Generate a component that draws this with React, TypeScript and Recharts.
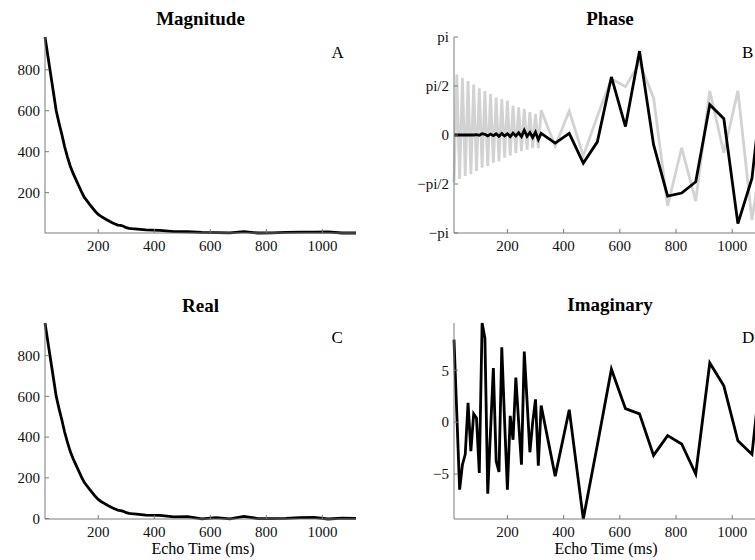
import { LineChart, Line, XAxis, YAxis } from "recharts";

// echo times (ms): dense sampling first, then every 50 ms
const echoTimes = [
  10, 20, 30, 40, 50, 60, 70, 80, 90, 100, 110, 120, 130, 140, 150, 160,
  170, 180, 190, 200, 210, 220, 230, 240, 250, 260, 270, 280, 290, 300, 310, 320,
  370, 420, 470, 520, 570, 620, 670, 720, 770, 820, 870, 920, 970, 1020, 1070, 1120,
];

const magnitude = [
  960, 870, 780, 690, 600, 540, 485, 425, 375, 330, 295, 265, 235, 205, 178, 160,
  142, 125, 108, 94, 84, 76, 68, 60, 53, 47, 42, 40, 36, 29, 26, 24,
  18, 16, 10, 9, 6, 5, 4, 10, 3, 4, 6, 7, 7, 8, 3, 3,
];

const realPart = [
  960, 870, 780, 690, 600, 540, 485, 425, 375, 330, 295, 265, 235, 205, 178, 160,
  142, 125, 108, 94, 84, 76, 68, 60, 53, 47, 42, 39, 36, 29, 26, 24,
  17, 16, 8, 10, -1, 5, -1, 11, 0, 0, 1, 5, 6, -2, 2, 1,
];

const imagPart = [
  7.95, 0.8, -6.5, -4.1, -3.1, 1.86, -2.8, 0.8, 0.4, -4.9, 9.55, 8.1, -6.9, -0.8, 5.2, -3.75,
  -4.8, 7.2, 0.1, -6.5, 0.6, -1.7, 4.3, 0.0, -4.1, 6.8, 2.0, -2.9, 0.0, 2.2, -4.2, 1.6,
  -5.2, 1.2, -9.33, -2.2, 5.1, 1.3, 0.8, -3.2, -1.3, -2.1, -5.0, 5.7, 3.5, -1.8, -3.1, 9.4,
];

const phase = [
  0, 0, 0, 0, 0, 0, 0, 0, 0.01, -0.01, 0.04, 0.02, -0.03, 0.03, -0.02, 0.04,
  -0.04, 0.05, -0.03, 0.04, -0.05, 0.06, -0.03, 0.07, -0.05, 0.15, -0.04, 0.08, -0.08, 0.09, -0.15, 0.05,
  -0.26, 0.05, -0.9, -0.22, 1.86, 0.27, 2.69, -0.31, -1.96, -1.86, -1.5, 0.97, 0.52, -2.84, -1.39, 2.6,
];

const phaseRaw = [
  -1.52, 1.94, -1.41, 1.83, -1.31, 1.73, -1.26, 1.62, -1.15, 1.5, -1.05, 1.41, -0.99, 1.31, -0.89, 1.2,
  -0.84, 1.15, -0.73, 1.1, -0.66, 0.94, -0.58, 0.89, -0.52, 0.84, -0.47, 0.73, -0.42, 0.68, -0.42, 0.79,
  -0.36, 0.77, -0.67, 0.6, 1.8, 1.55, 2.32, 1.19, -2.27, -0.41, -2.12, 1.41, -0.57, 1.42, -2.73, 0.3,
];

const timeTicks = [200, 400, 600, 800, 1000];
const magTicks = [200, 400, 600, 800];
const realTicks = [0, 200, 400, 600, 800];
const imagTicks = [-5, 0, 5];
const phaseTicks = [-Math.PI, -Math.PI / 2, 0, Math.PI / 2, Math.PI];
const phaseTickLabels = ["−pi", "−pi/2", "0", "pi/2", "pi"];

const rows = echoTimes.map((t, i) => ({
  t,
  mag: magnitude[i],
  re: realPart[i],
  im: imagPart[i],
  ph: phase[i],
  phRaw: phaseRaw[i],
}));

const FONT = "'Liberation Serif', 'Times New Roman', serif";
const AXIS = "#7a7a7a";
const PLOT_H = 196;
const TOP_PAD = 10;

const extent = (arr: number[]): [number, number] => [Math.min(...arr), Math.max(...arr)];

type Series = { key: string; color: string };

type PanelProps = {
  left: number;
  top: number;
  yWidth: number;
  plotW: number;
  domain: [number, number];
  ticks: number[];
  fmt?: (v: number) => string;
  series: Series[];
};

const Panel = ({ left, top, yWidth, plotW, domain, ticks, fmt, series }: PanelProps) => {
  const tickStyle = { fill: "#111", fontSize: 15, fontFamily: FONT };
  return (
    <div style={{ position: "absolute", left: left - yWidth, top: top - TOP_PAD }}>
      <LineChart
        width={yWidth + plotW + 5}
        height={TOP_PAD + PLOT_H + 30}
        data={rows}
        margin={{ top: TOP_PAD, right: 5, bottom: 0, left: 0 }}
      >
        <XAxis
          dataKey="t"
          type="number"
          domain={[10, 1120]}
          ticks={timeTicks}
          interval={0}
          height={30}
          tickSize={-4}
          tickMargin={11}
          stroke={AXIS}
          tick={tickStyle}
        />
        <XAxis
          xAxisId="top"
          orientation="top"
          dataKey="t"
          type="number"
          domain={[10, 1120]}
          ticks={timeTicks}
          interval={0}
          height={0}
          tickSize={-4}
          tick={false}
          stroke={AXIS}
        />
        <YAxis
          type="number"
          domain={domain}
          ticks={ticks}
          interval={0}
          width={yWidth}
          tickSize={-4}
          tickMargin={9}
          stroke={AXIS}
          tick={tickStyle}
          tickFormatter={fmt}
        />
        <YAxis
          yAxisId="right"
          orientation="right"
          type="number"
          domain={domain}
          ticks={ticks}
          interval={0}
          width={0}
          tickSize={-4}
          tick={false}
          stroke={AXIS}
        />
        {series.map((s) => (
          <Line
            key={s.key}
            type="linear"
            dataKey={s.key}
            stroke={s.color}
            strokeWidth={2.8}
            dot={false}
            isAnimationActive={false}
          />
        ))}
      </LineChart>
    </div>
  );
};

const phaseFmt = (v: number) => {
  const i = phaseTicks.findIndex((p) => Math.abs(p - v) < 1e-6);
  return i >= 0 ? phaseTickLabels[i] : "";
};
const minusFmt = (v: number) => (v < 0 ? `−${Math.abs(v)}` : `${v}`);

const App = () => {
  return (
    <div
      style={{
        position: "absolute",
        left: 0,
        top: 0,
        width: 755,
        height: 560,
        overflow: "hidden",
        background: "#fff",
      }}
    >
      <Panel
        left={45}
        top={37}
        yWidth={45}
        plotW={311}
        domain={extent(magnitude)}
        ticks={magTicks}
        series={[{ key: "mag", color: "#000" }]}
      />
      <Panel
        left={454}
        top={37}
        yWidth={54}
        plotW={312}
        domain={[-Math.PI, Math.PI]}
        ticks={phaseTicks}
        fmt={phaseFmt}
        series={[
          { key: "phRaw", color: "#d2d2d2" },
          { key: "ph", color: "#000" },
        ]}
      />
      <Panel
        left={45}
        top={323}
        yWidth={45}
        plotW={311}
        domain={extent(realPart)}
        ticks={realTicks}
        series={[{ key: "re", color: "#000" }]}
      />
      <Panel
        left={454}
        top={323}
        yWidth={54}
        plotW={312}
        domain={extent(imagPart)}
        ticks={imagTicks}
        fmt={minusFmt}
        series={[{ key: "im", color: "#000" }]}
      />
      <svg
        width={755}
        height={560}
        style={{ position: "absolute", left: 0, top: 0, pointerEvents: "none" }}
        fontFamily={FONT}
      >
        <g fontWeight="bold" fontSize={19} textAnchor="middle" fill="#000">
          <text x={200.5} y={25}>Magnitude</text>
          <text x={610} y={25}>Phase</text>
          <text x={200.5} y={311.5}>Real</text>
          <text x={610} y={311}>Imaginary</text>
        </g>
        <g fontSize={17} fill="#000">
          <text x={331.5} y={57.5}>A</text>
          <text x={742} y={58}>B</text>
          <text x={331.5} y={343}>C</text>
          <text x={742} y={343}>D</text>
        </g>
        <g fontSize={16} textAnchor="middle" fill="#000">
          <text x={203} y={553.5}>Echo Time (ms)</text>
          <text x={606} y={553.5}>Echo Time (ms)</text>
        </g>
      </svg>
    </div>
  );
};

export default App;
